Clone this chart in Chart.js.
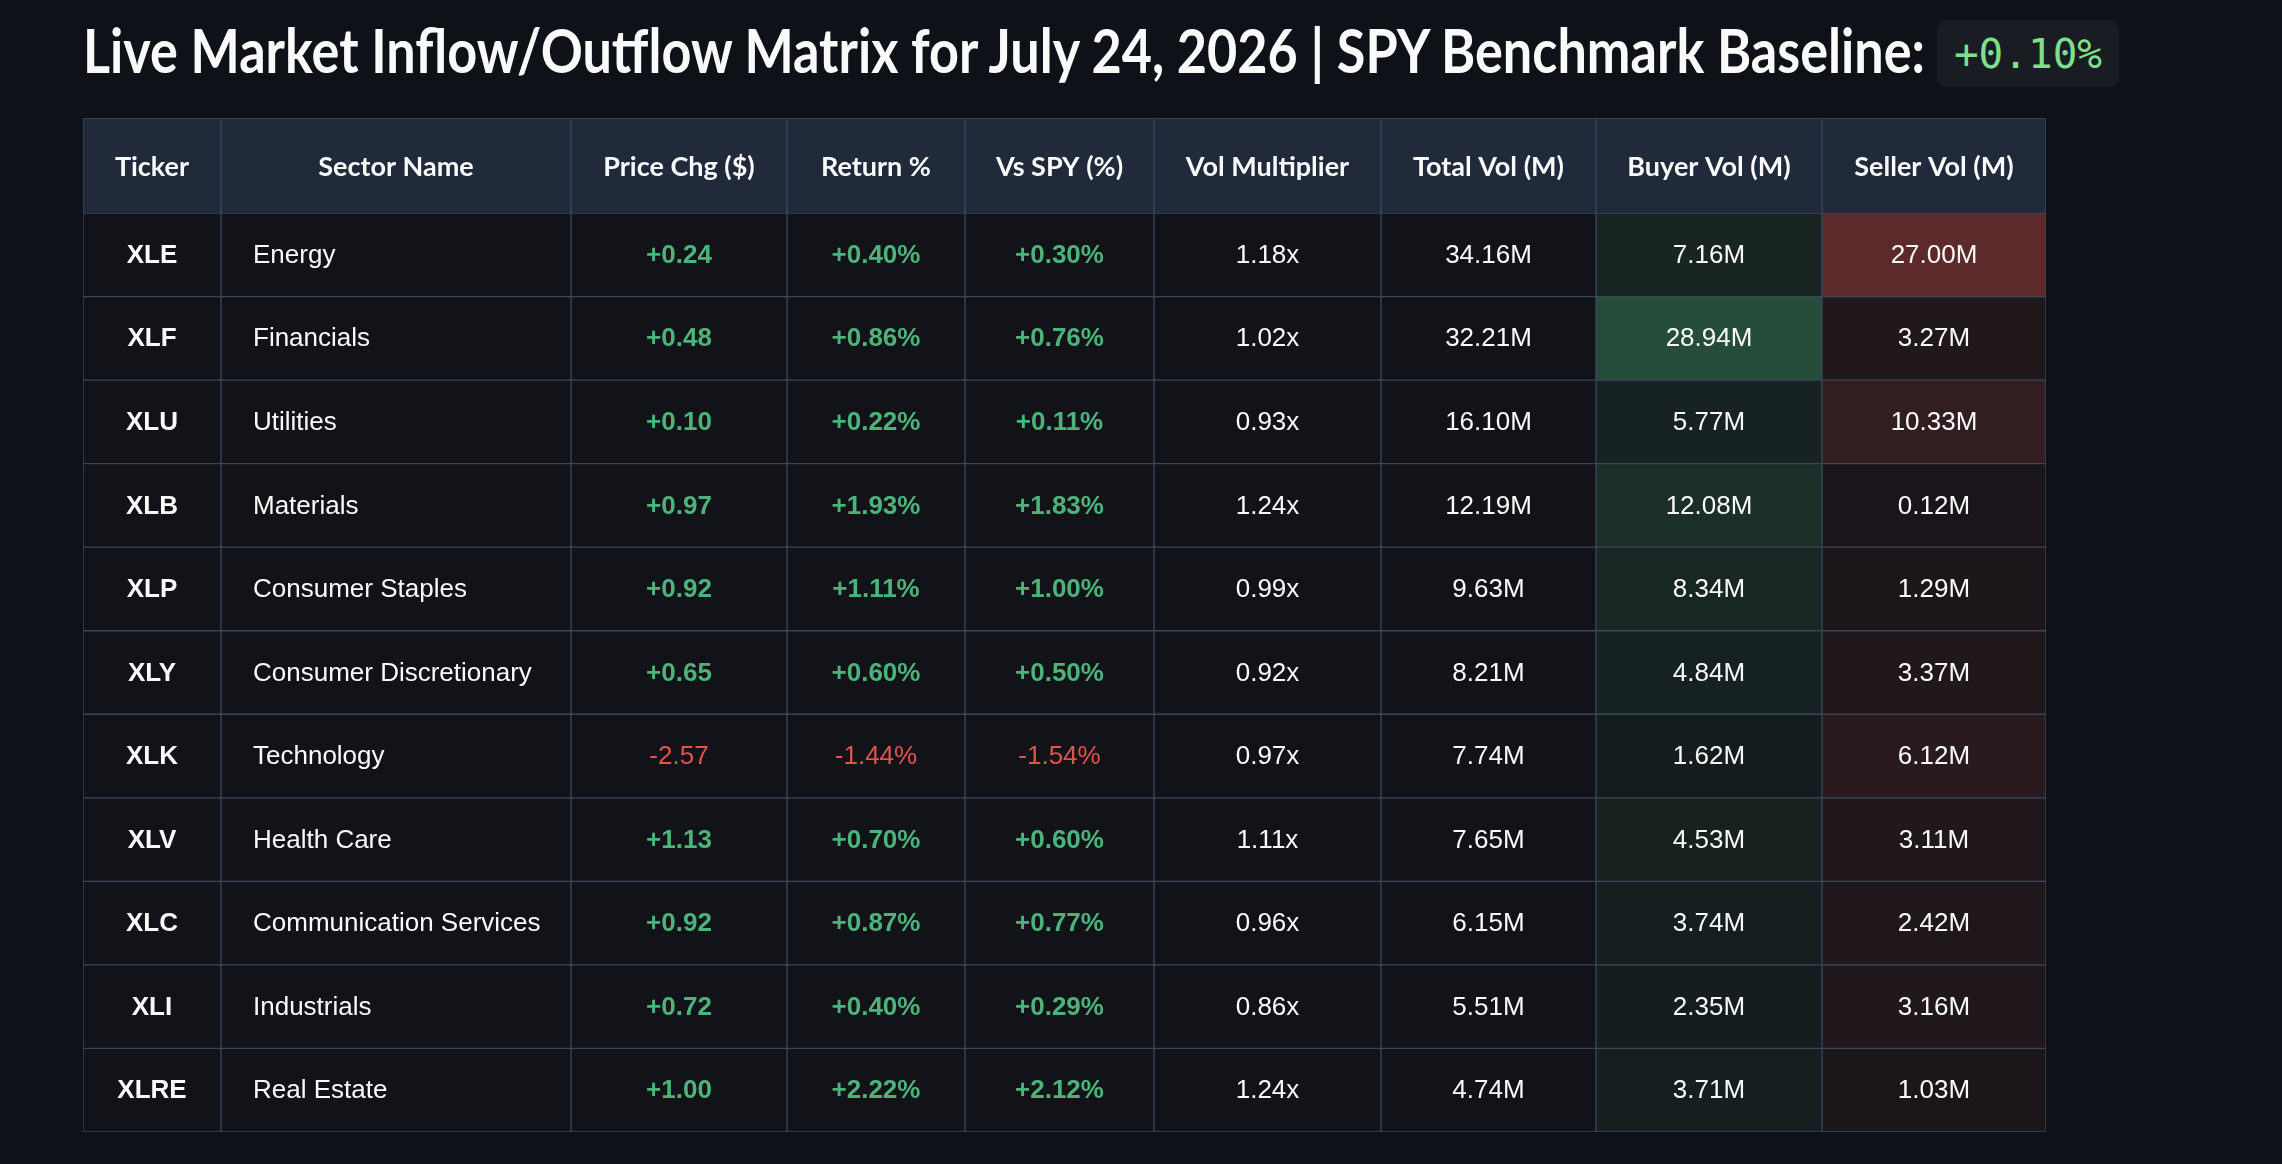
<!DOCTYPE html>
<html>
<head>
<meta charset="utf-8">
<script src="https://cdn.jsdelivr.net/npm/chart.js@4.4.1/dist/chart.umd.min.js"></script>
<style>
html, body { margin: 0; background: #0e1117; width: 2282px; height: 1164px; overflow: hidden; }
#title { position: absolute; left: 83px; top: 12px; height: 80px; line-height: 80px; white-space: nowrap;
         color: #fafafa; font: 700 62px Lato, sans-serif; transform-origin: left center; }
#badge { position: absolute; left: 1937px; top: 20px; width: 182px; height: 67px; border-radius: 9px;
         background: #1a1c23; color: #7ee08a; font: 41px "DejaVu Sans Mono", monospace;
         display: flex; align-items: center; justify-content: center; }
#head { position: absolute; left: 83px; top: 118px; width: 1963px; height: 96px; }
#body { position: absolute; left: 83px; top: 213px; width: 1963px; height: 919px; }
</style>
</head>
<body>
<div id="title">Live Market Inflow/Outflow Matrix for July 24, 2026 | SPY Benchmark Baseline:</div>
<div id="badge"></div>
<div id="head"><canvas id="headChart"></canvas></div>
<div id="body"><canvas id="matrixChart"></canvas></div>
<script>
const spyBaseline = 0.10;
const headers = ['Ticker', 'Sector Name', 'Price Chg ($)', 'Return %', 'Vs SPY (%)', 'Vol Multiplier', 'Total Vol (M)', 'Buyer Vol (M)', 'Seller Vol (M)'];
const tickers = ['XLE', 'XLF', 'XLU', 'XLB', 'XLP', 'XLY', 'XLK', 'XLV', 'XLC', 'XLI', 'XLRE'];
const sectors = ['Energy', 'Financials', 'Utilities', 'Materials', 'Consumer Staples', 'Consumer Discretionary',
                 'Technology', 'Health Care', 'Communication Services', 'Industrials', 'Real Estate'];
const priceChg = [0.24, 0.48, 0.10, 0.97, 0.92, 0.65, -2.57, 1.13, 0.92, 0.72, 1.00];
const returnPct = [0.40, 0.86, 0.22, 1.93, 1.11, 0.60, -1.44, 0.70, 0.87, 0.40, 2.22];
const vsSpy = [0.30, 0.76, 0.11, 1.83, 1.00, 0.50, -1.54, 0.60, 0.77, 0.29, 2.12];
const volMult = [1.18, 1.02, 0.93, 1.24, 0.99, 0.92, 0.97, 1.11, 0.96, 0.86, 1.24];
const totalVol = [34.16, 32.21, 16.10, 12.19, 9.63, 8.21, 7.74, 7.65, 6.15, 5.51, 4.74];
const buyerVol = [7.16, 28.94, 5.77, 12.08, 8.34, 4.84, 1.62, 4.53, 3.74, 2.35, 3.71];
const sellerVol = [27.00, 3.27, 10.33, 0.12, 1.29, 3.37, 6.12, 3.11, 2.42, 3.16, 1.03];

// layout: relative column widths
const colWidths = [138, 350, 216, 178, 189, 227, 215, 226, 224];
const colEdges = [0];
colWidths.forEach(w => colEdges.push(colEdges[colEdges.length - 1] + w));

const sign = v => (v >= 0 ? '+' : '') + v.toFixed(2);
document.getElementById('badge').textContent = sign(spyBaseline) + '%';

// squeeze title to the reference width (narrower face in the original)
const title = document.getElementById('title');
title.style.transform = 'scaleX(' + (1842 / title.getBoundingClientRect().width) + ')';

const GREEN = '#4cb47a', RED = '#e5534b', WHITE = '#fafafa';
const BODY_FONT = '26px "Liberation Sans", Arial, sans-serif';
const cellBase = [17, 19, 24];
function tint(full, v, max) {
    const t = 0.1 + 0.9 * v / max;
    return 'rgb(' + cellBase.map((b, i) => Math.round(b + (full[i] - b) * t)).join(',') + ')';
}
const buyMax = Math.max(...buyerVol), sellMax = Math.max(...sellerVol);

function cellText(c, r) {
    const num = (v, suffix) => ({
        text: sign(v) + suffix, color: v >= 0 ? GREEN : RED,
        font: (v >= 0 ? 'bold ' : '') + BODY_FONT
    });
    const plain = text => ({ text, color: WHITE, font: BODY_FONT });
    switch (c) {
        case 0: return { text: tickers[r], color: WHITE, font: 'bold ' + BODY_FONT };
        case 1: return Object.assign(plain(sectors[r]), { align: 'left' });
        case 2: return num(priceChg[r], '');
        case 3: return num(returnPct[r], '%');
        case 4: return num(vsSpy[r], '%');
        case 5: return plain(volMult[r].toFixed(2) + 'x');
        case 6: return plain(totalVol[r].toFixed(2) + 'M');
        case 7: return plain(buyerVol[r].toFixed(2) + 'M');
        case 8: return plain(sellerVol[r].toFixed(2) + 'M');
    }
}

function textPlugin(getText) {
    return {
        id: 'cellText',
        afterDatasetsDraw(chart) {
            const ctx = chart.ctx;
            ctx.save();
            ctx.textBaseline = 'middle';
            chart.data.datasets.forEach((ds, c) => {
                chart.getDatasetMeta(c).data.forEach((bar, r) => {
                    const p = bar.getProps(['x', 'y', 'base'], true);
                    const left = Math.min(p.x, p.base), right = Math.max(p.x, p.base);
                    const t = getText(c, r);
                    ctx.font = t.font;
                    ctx.fillStyle = t.color;
                    if (t.align === 'left') {
                        ctx.textAlign = 'left';
                        ctx.fillText(t.text, left + 32, p.y + 1);
                    } else {
                        ctx.textAlign = 'center';
                        ctx.fillText(t.text, (left + right) / 2, p.y + 1);
                    }
                });
            });
            ctx.restore();
        }
    };
}

function tableOptions() {
    return {
        indexAxis: 'y',
        responsive: true,
        maintainAspectRatio: false,
        animation: false,
        layout: { padding: 0 },
        scales: {
            x: { type: 'linear', min: 0, max: colEdges[colEdges.length - 1], display: false },
            y: { display: false }
        },
        plugins: { legend: { display: false }, tooltip: { enabled: false } }
    };
}

function columnDataset(c, rows, bg) {
    return {
        label: headers[c],
        data: rows.map(() => [colEdges[c], colEdges[c + 1]]),
        backgroundColor: bg,
        borderColor: '#3d4759',
        borderWidth: 1,
        borderSkipped: false,
        grouped: false,
        categoryPercentage: 1,
        barPercentage: 1
    };
}

// header row
new Chart(document.getElementById('headChart'), {
    type: 'bar',
    data: {
        labels: ['header'],
        datasets: headers.map((h, c) => columnDataset(c, ['header'], '#202a3b'))
    },
    options: tableOptions(),
    plugins: [textPlugin(c => ({ text: headers[c], color: WHITE, font: 'bold 27px Lato, sans-serif' }))]
});

// body rows
new Chart(document.getElementById('matrixChart'), {
    type: 'bar',
    data: {
        labels: tickers,
        datasets: headers.map((h, c) => {
            let bg = '#111318';
            if (c === 7) bg = buyerVol.map(v => tint([38, 76, 58], v, buyMax));
            if (c === 8) bg = sellerVol.map(v => tint([92, 42, 42], v, sellMax));
            return columnDataset(c, tickers, bg);
        })
    },
    options: tableOptions(),
    plugins: [textPlugin(cellText)]
});
</script>
</body>
</html>
